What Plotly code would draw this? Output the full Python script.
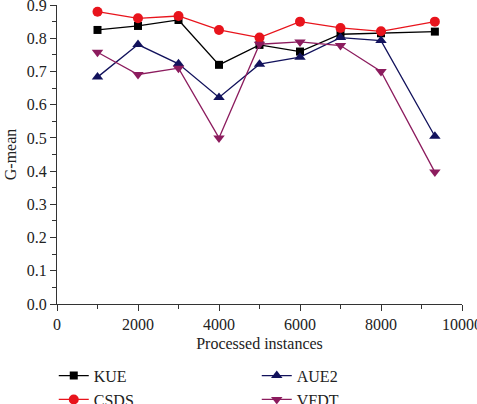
import plotly.graph_objects as go

x_vals = [1000, 2000, 3000, 4000, 5000, 6000, 7000, 8000, 9330]
kue = [0.825, 0.837, 0.855, 0.72, 0.78, 0.76, 0.812, 0.815, 0.82]
csds = [0.88, 0.86, 0.867, 0.825, 0.802, 0.85, 0.831, 0.821, 0.85]
aue2 = [0.683, 0.781, 0.723, 0.622, 0.722, 0.743, 0.802, 0.793, 0.505]
vfdt = [0.758, 0.691, 0.71, 0.50, 0.782, 0.789, 0.778, 0.70, 0.397]
x_ticks = [0, 2000, 4000, 6000, 8000, 10000]
x_tick_labels = ["0", "2000", "4000", "6000", "8000", "10000"]
y_ticks = [0, 0.1, 0.2, 0.3, 0.4, 0.5, 0.6, 0.7, 0.8, 0.9]

series = [
    ("KUE", kue, "#000000", "square", 1),
    ("CSDS", csds, "#e8141c", "circle", 3),
    ("AUE2", aue2, "#12125c", "triangle-up", 2),
    ("VFDT", vfdt, "#8c1c5e", "triangle-down", 4),
]

font_family = "Liberation Serif, Times New Roman, serif"

fig = go.Figure()
for name, vals, color, sym, rank in series:
    fig.add_trace(go.Scatter(
        x=x_vals, y=vals, name=name, mode="lines+markers",
        line=dict(color=color, width=1.3),
        marker=dict(symbol=sym, size=10 if sym != "square" else 8, color=color),
        legendrank=rank,
    ))

axis_common = dict(
    showgrid=False, zeroline=False, showline=True, linecolor="#333333", linewidth=1.2,
    ticks="outside", ticklen=6, tickwidth=1.2, tickcolor="#333333",
    tickfont=dict(family=font_family, size=16, color="#222222"),
    ticklabeloverflow="allow",
)

fig.update_xaxes(
    range=[0, 10000], tickvals=x_ticks, ticktext=x_tick_labels,
    minor=dict(dtick=1000, ticks="outside", ticklen=4, tickcolor="#333333", tickwidth=1.2),
    title=dict(text="Processed instances", font=dict(family=font_family, size=16, color="#222222"), standoff=5),
    **axis_common,
)
fig.update_yaxes(
    range=[0, 0.9001], tickvals=y_ticks, tickformat=".1f",
    minor=dict(dtick=0.05, ticks="outside", ticklen=4, tickcolor="#333333", tickwidth=1.2),
    title=dict(text="G-mean", font=dict(family=font_family, size=16, color="#222222"), standoff=6),
    **axis_common,
)

fig.update_layout(
    width=477, height=404,
    margin=dict(l=57, r=15, t=5, b=100, autoexpand=False),
    plot_bgcolor="white", paper_bgcolor="white",
    font=dict(family=font_family, size=16, color="#222222"),
    showlegend=True,
    legend=dict(
        orientation="h", x=-0.008, xref="paper", y=-0.183, yref="paper",
        xanchor="left", yanchor="top",
        entrywidth=158, entrywidthmode="pixels",
        bgcolor="rgba(0,0,0,0)",
        font=dict(family=font_family, size=16, color="#222222"),
        tracegroupgap=0, itemwidth=30,
    ),
)

fig.write_html("out.html", config={"displayModeBar": False},
               post_script="document.body.style.margin='0px';")
